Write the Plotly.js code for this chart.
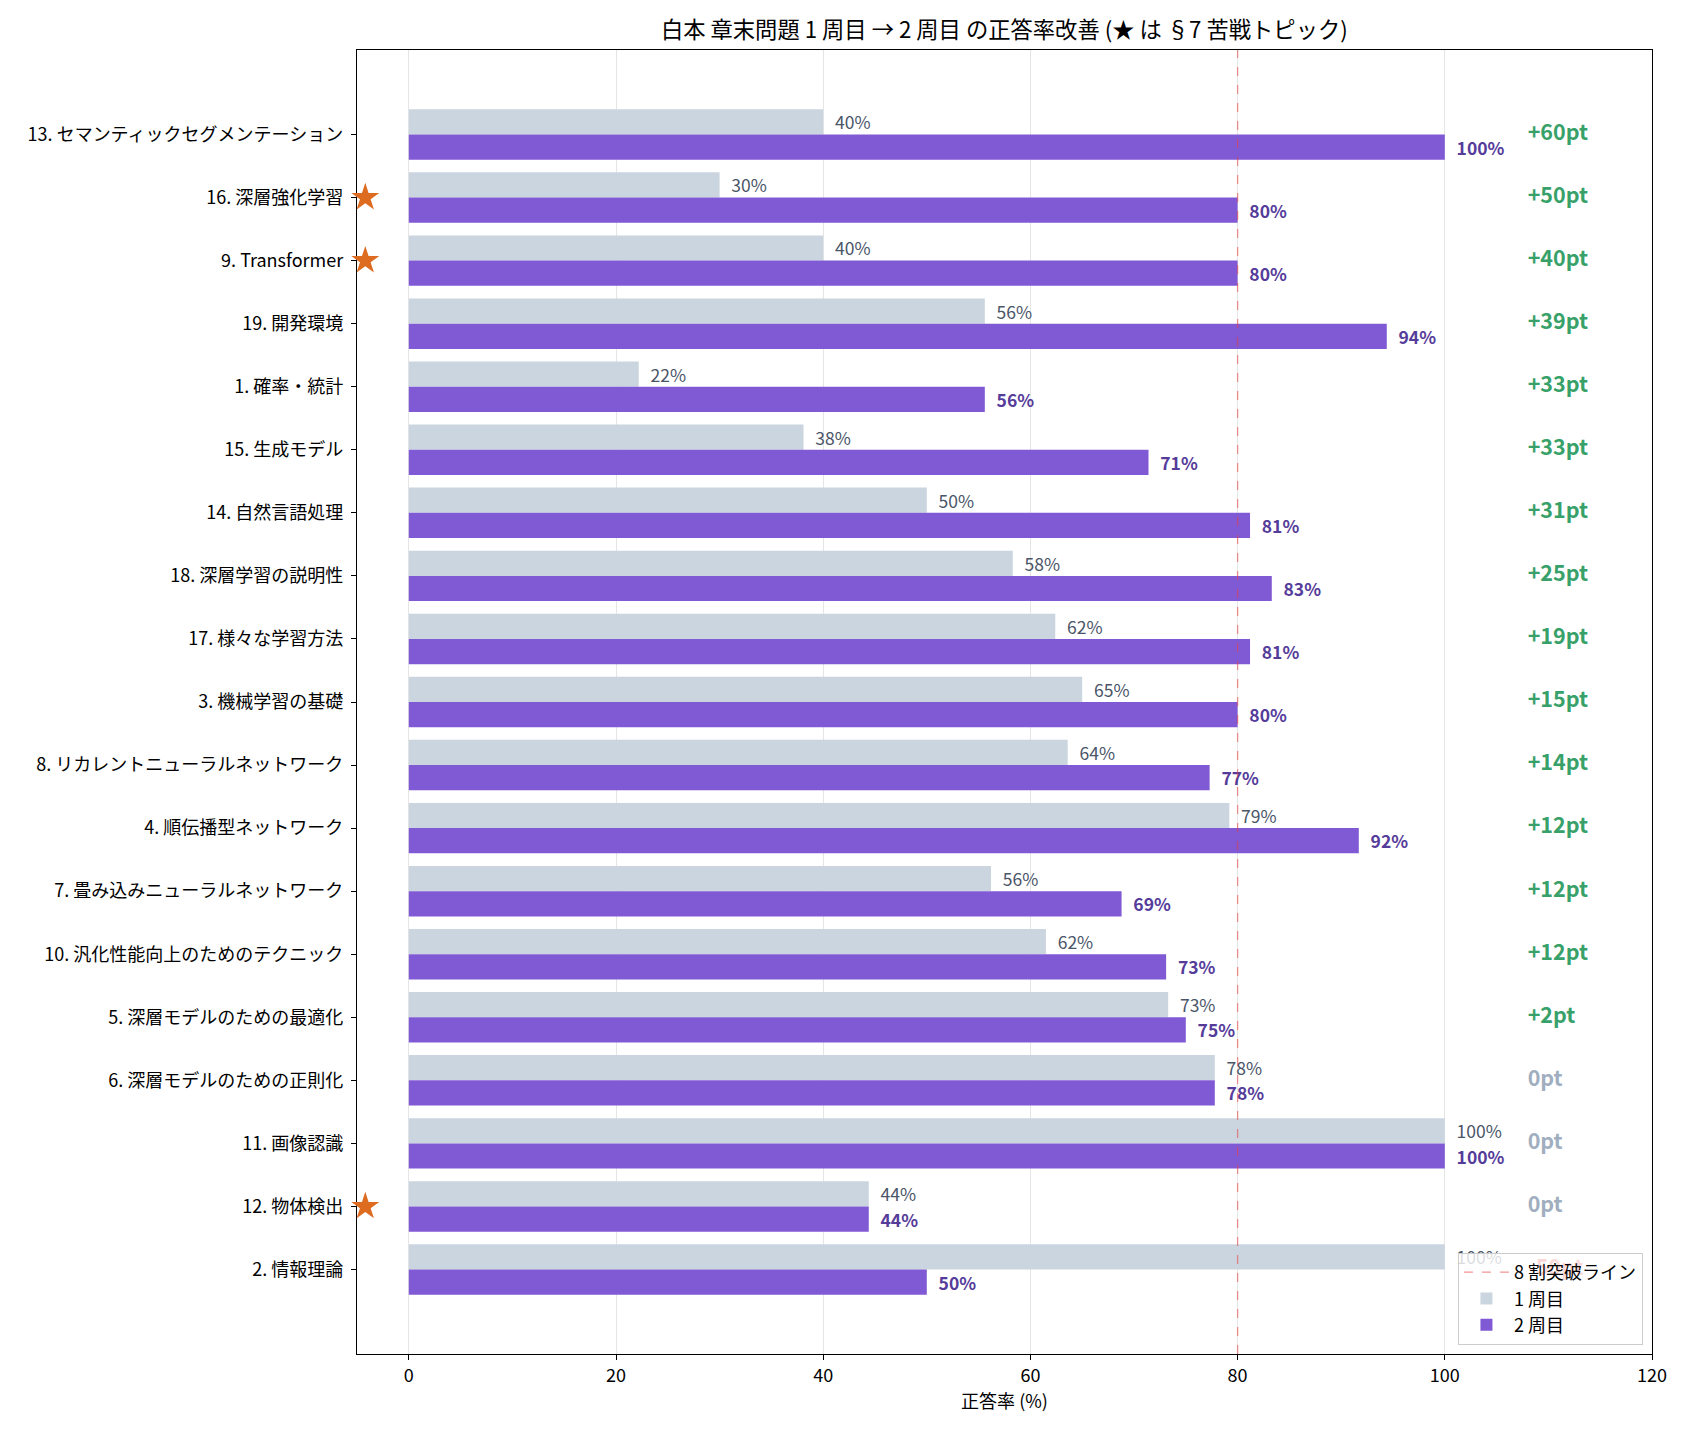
<!DOCTYPE html>
<html><head><meta charset="utf-8">
<script src="https://cdn.plot.ly/plotly-3.0.1.min.js"></script>
<style>html,body{margin:0;padding:0;background:#fff}</style>
</head><body>
<div id="chart" style="width:1690px;height:1430px"></div>
<script>
// ---- data (top to bottom) ----
const chapters = [
  "13. セマンティックセグメンテーション",
  "16. 深層強化学習",
  "9. Transformer",
  "19. 開発環境",
  "1. 確率・統計",
  "15. 生成モデル",
  "14. 自然言語処理",
  "18. 深層学習の説明性",
  "17. 様々な学習方法",
  "3. 機械学習の基礎",
  "8. リカレントニューラルネットワーク",
  "4. 順伝播型ネットワーク",
  "7. 畳み込みニューラルネットワーク",
  "10. 汎化性能向上のためのテクニック",
  "5. 深層モデルのための最適化",
  "6. 深層モデルのための正則化",
  "11. 画像認識",
  "12. 物体検出",
  "2. 情報理論"
];
const round1 = [40, 30, 40, 55.6, 22.2, 38.1, 50, 58.3, 62.4, 65, 63.6, 79.2, 56.2, 61.5, 73.3, 77.8, 100, 44.4, 100];
const round2 = [100, 80, 80, 94.4, 55.6, 71.4, 81.2, 83.3, 81.2, 80, 77.3, 91.7, 68.8, 73.1, 75, 77.8, 100, 44.4, 50];
const gainPt = [60, 50, 40, 39, 33, 33, 31, 25, 19, 15, 14, 12, 12, 12, 2, 0, 0, 0, -50];
const struggled = [false, true, true, false, false, false, false, false, false, false, false, false, false, false, false, false, false, true, false];
const threshold = 80;
const legendNames = {line: "8 割突破ライン", r1: "1 周目", r2: "2 周目"};
const titleText = "白本 章末問題 1 周目 → 2 周目 の正答率改善 (★ は §7 苦戦トピック)";
const xTitle = "正答率 (%)";

// ---- styling ----
const FONT = "'Noto Sans CJK JP', 'Noto Sans', sans-serif";
const C_R1 = "#cbd5e0", C_R2 = "#805ad5";
const C_R1TXT = "#4a5568", C_R2TXT = "#553c9a";
const C_UP = "#38a169", C_ZERO = "#a0aec0", C_DOWN = "#e53e3e";
const C_STAR = "#dd6b20";
const pad = "\u2002";

const gainText = gainPt.map(g => (g > 0 ? "+" : "") + g + "pt");
const gainColor = gainPt.map(g => g > 0 ? C_UP : (g === 0 ? C_ZERO : C_DOWN));
const gainX = 108; // column where gain labels start
const starX = -4.2; // marker column on the left spine

const n = chapters.length;
const traces = [
  {
    type: "scatter", mode: "lines", name: legendNames.line,
    x: [threshold, threshold], y: [0, 1], xaxis: "x", yaxis: "y2",
    line: {color: "rgba(229,62,62,0.55)", width: 1.3, dash: "dash"},
    hoverinfo: "skip"
  },
  {
    type: "bar", orientation: "h", name: legendNames.r1,
    y: chapters, x: round1,
    marker: {color: C_R1},
    text: round1.map(v => pad + Math.round(v) + "%"),
    textposition: "outside", constraintext: "none", cliponaxis: false,
    textfont: {family: FONT, size: 17.5, color: C_R1TXT}
  },
  {
    type: "bar", orientation: "h", name: legendNames.r2,
    y: chapters, x: round2,
    marker: {color: C_R2},
    text: round2.map(v => pad + "<b>" + Math.round(v) + "%</b>"),
    textposition: "outside", constraintext: "none", cliponaxis: false,
    textfont: {family: FONT, size: 17.5, color: C_R2TXT}
  },
  {
    type: "scatter", mode: "text", showlegend: false,
    y: chapters, x: chapters.map(() => gainX),
    text: gainText.map(t => "<b>" + t + "</b>"),
    textposition: "middle right",
    textfont: {family: FONT, size: 21.5, color: gainColor},
    cliponaxis: false, hoverinfo: "skip"
  },
  {
    type: "scatter", mode: "markers", showlegend: false,
    y: chapters.filter((c, i) => struggled[i]),
    x: chapters.filter((c, i) => struggled[i]).map(() => starX),
    marker: {symbol: "star", size: 21, color: C_STAR, line: {width: 0}},
    cliponaxis: false, hoverinfo: "skip"
  }
];

const layout = {
  width: 1690, height: 1430,
  margin: {l: 357, r: 38, t: 50, b: 76},
  paper_bgcolor: "#fff", plot_bgcolor: "#fff",
  font: {family: FONT, size: 18, color: "#000"},
  title: {text: titleText, x: 0.5943, xanchor: "center", y: 0.979, yanchor: "middle",
          font: {family: FONT, size: 22.3, color: "#000"}},
  barmode: "group", bargap: 0.2, bargroupgap: 0,
  xaxis: {
    range: [-5, 120], tick0: 0, dtick: 20, showgrid: true, gridcolor: "#e5e5e5", gridwidth: 1,
    zeroline: false, showline: true, linecolor: "#000", linewidth: 1.2, mirror: true,
    ticks: "outside", ticklen: 5, tickcolor: "#000", layer: "below traces",
    tickfont: {family: FONT, size: 18, color: "#000"},
    title: {text: xTitle, font: {family: FONT, size: 18, color: "#000"}, standoff: 5}
  },
  yaxis: {
    type: "category", autorange: false, range: [n - 1 + 1.34, -1.34],
    showgrid: false, zeroline: false, showline: true, linecolor: "#000", linewidth: 1.2, mirror: true,
    ticks: "outside", ticklen: 5, tickcolor: "#000", layer: "below traces",
    ticklabelstandoff: 4,
    tickfont: {family: FONT, size: 18, color: "#000"}
  },
  yaxis2: {overlaying: "y", range: [0, 1], visible: false, fixedrange: true},
  legend: {
    x: 0.993, y: 0.007, xanchor: "right", yanchor: "bottom",
    bgcolor: "rgba(255,255,255,0.8)", bordercolor: "#cccccc", borderwidth: 1,
    font: {family: FONT, size: 18, color: "#000"}, traceorder: "normal", tracegroupgap: 0,
    itemwidth: 45
  },
  showlegend: true
};

Plotly.newPlot("chart", traces, layout, {displayModeBar: false, staticPlot: true});
</script>
</body></html>
